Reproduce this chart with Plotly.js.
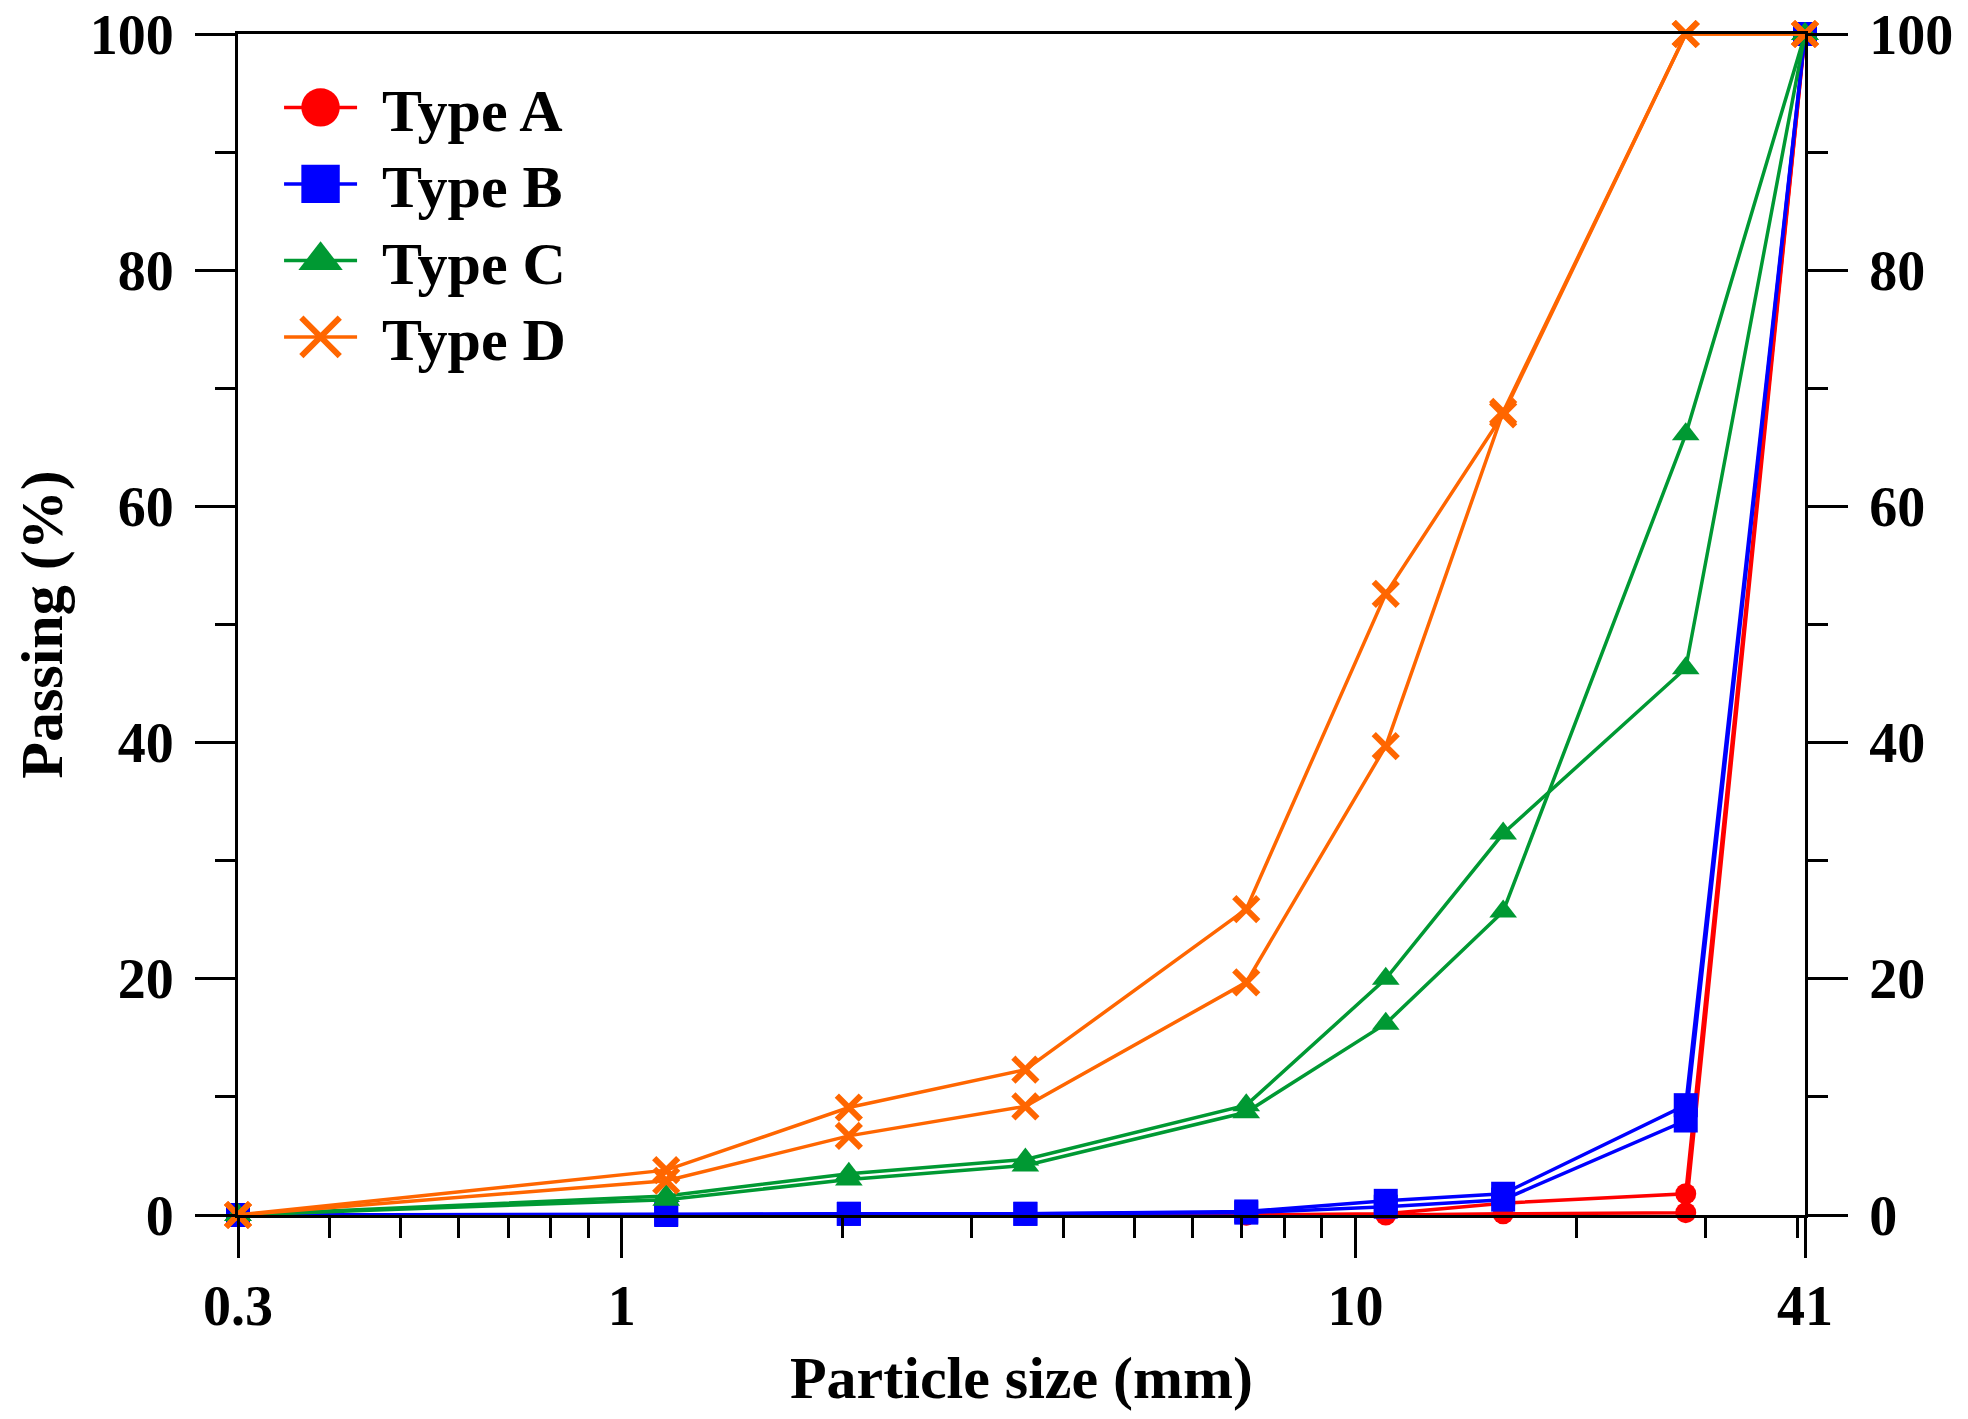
<!DOCTYPE html>
<html>
<head>
<meta charset="utf-8">
<script src="https://cdn.plot.ly/plotly-3.0.1.min.js"></script>
<style>
  html, body { margin: 0; padding: 0; background: #fff; }
  #plot { width: 1968px; height: 1419px; }
</style>
</head>
<body>
<div id="plot"></div>
<script>
// particle sizes (mm) of the sieve points
var sizes = [0.3, 1.15, 2.04, 3.55, 7.1, 11, 15.9, 28.2, 41];

// passing (%) - two samples per type
var typeA1 = [0, 0, 0, 0, 0, 0.1, 1.0, 1.8, 100];
var typeA2 = [0, 0, 0, 0, 0, 0, 0.1, 0.2, 100];
var typeB1 = [0, 0.1, 0.1, 0.1, 0.3, 1.2, 1.8, 9.3, 100];
var typeB2 = [0, 0, 0.1, 0.1, 0.2, 0.7, 1.3, 8.0, 100];
var typeC1 = [0, 1.6, 3.5, 4.7, 9.3, 20.0, 32.3, 46.3, 100];
var typeC2 = [0, 1.3, 3.0, 4.2, 8.7, 16.2, 25.7, 66.1, 100];
var typeD1 = [0, 3.8, 9.1, 12.3, 25.9, 52.6, 67.8, 100, 100];
var typeD2 = [0, 2.9, 6.7, 9.2, 19.7, 39.7, 68.0, 100, 100];

// axis ticks
var xTickVals = [0.3, 1, 10, 41];
var xTickText = ['0.3', '1', '10', '41'];
var xMinorVals = [0.4, 0.5, 0.6, 0.7, 0.8, 0.9, 2, 3, 4, 5, 6, 7, 8, 9, 20, 30, 40];

var font = 'Liberation Serif, Times New Roman, serif';

function curve(name, y, color, symbol, first, yaxis) {
    var marker = { color: color, size: 24, symbol: symbol };
    if (symbol == 'x-thin') {
        marker.size = 24;
        marker.line = { color: color, width: 6 };
    }
    if (symbol == 'circle') { marker.size = 21; }
    return {
        x: sizes,
        y: y,
        yaxis: yaxis || 'y',
        name: name,
        legendgroup: name,
        showlegend: first,
        mode: 'lines+markers',
        type: 'scatter',
        cliponaxis: false,
        line: { color: color, width: 3.5 },
        marker: marker
    };
}

var data = [
    curve('Type A', typeA1, '#ff0000', 'circle', true),
    curve('Type A', typeA2, '#ff0000', 'circle', false),
    curve('Type B', typeB1, '#0000ff', 'square', true),
    curve('Type B', typeB2, '#0000ff', 'square', false),
    curve('Type C', typeC1, '#009933', 'triangle-up', true),
    curve('Type C', typeC2, '#009933', 'triangle-up', false),
    curve('Type D', typeD1, '#ff6600', 'x-thin', true),
    // same 0-100 scale, drawn on the right-hand axis so it gets its labels
    curve('Type D', typeD2, '#ff6600', 'x-thin', false, 'y2')
];

var yTicks = {
    range: [0, 100],
    dtick: 20,
    ticks: 'outside',
    ticklen: 40,
    tickwidth: 3,
    tickcolor: '#000',
    ticklabelstandoff: 10,
    showline: true,
    linewidth: 3,
    linecolor: '#000',
    showgrid: false,
    zeroline: false,
    fixedrange: true,
    tickfont: { family: font, size: 56, color: '#000', weight: 'bold' },
    minor: { dtick: 10, ticks: 'outside', ticklen: 20, tickwidth: 3, tickcolor: '#000', showgrid: false }
};

var layout = {
    width: 1968,
    height: 1419,
    margin: { l: 238, r: 163, t: 34, b: 204 },
    paper_bgcolor: '#fff',
    plot_bgcolor: '#fff',
    showlegend: true,
    legend: {
        x: 0.0262,
        y: 0.973,
        xanchor: 'left',
        yanchor: 'top',
        bgcolor: 'rgba(0,0,0,0)',
        itemwidth: 73,
        tracegroupgap: 0,
        font: { family: font, size: 60, color: '#000', weight: 'bold' }
    },
    xaxis: {
        type: 'log',
        range: [Math.log10(0.3), Math.log10(41)],
        tickmode: 'array',
        tickvals: xTickVals,
        ticktext: xTickText,
        ticks: 'outside',
        ticklen: 40,
        tickwidth: 3,
        tickcolor: '#000',
        showline: true,
        mirror: true,
        linewidth: 3,
        linecolor: '#000',
        showgrid: false,
        zeroline: false,
        tickfont: { family: font, size: 56, color: '#000', weight: 'bold' },
        minor: { tickmode: 'array', tickvals: xMinorVals, ticks: 'outside', ticklen: 20, tickwidth: 3, tickcolor: '#000', showgrid: false },
        title: { text: 'Particle size (mm)', font: { family: font, size: 60, color: '#000', weight: 'bold' }, standoff: 20 }
    },
    yaxis: Object.assign({}, yTicks, {
        title: { text: 'Passing (%)', font: { family: font, size: 60, color: '#000', weight: 'bold' }, standoff: 8 }
    }),
    yaxis2: Object.assign({}, yTicks, {
        overlaying: 'y',
        side: 'right',
        anchor: 'x'
    })
};

Plotly.newPlot('plot', data, layout, { staticPlot: true }).then(function (gd) {
    // bigger legend symbols, tighter rows and a wider gap before the text, as in the figure
    var box = gd.querySelector('.legend .scrollbox');
    if (box) { box.removeAttribute('clip-path'); }
    var rowGap = 76.5;
    var y0 = null;
    gd.querySelectorAll('.legend .traces').forEach(function (t, i) {
        var m = /translate\(([-\d.]+),\s*([-\d.]+)\)/.exec(t.getAttribute('transform') || '');
        if (m) {
            if (y0 === null) { y0 = +m[2] - 4; }
            t.setAttribute('transform', 'translate(' + m[1] + ',' + (y0 + i * rowGap) + ')');
        }
        var txt = t.querySelector('text.legendtext');
        if (txt) { txt.setAttribute('x', +txt.getAttribute('x') + 20); }
        var isX = txt && txt.textContent == 'Type D';
        t.querySelectorAll('.legendpoints path.scatterpts').forEach(function (p) {
            p.setAttribute('transform', (p.getAttribute('transform') || '') + ' scale(2.4)');
            p.style.vectorEffect = 'non-scaling-stroke';
            if (isX) { p.style.strokeWidth = '6px'; }
        });
    });
});
</script>
</body>
</html>
